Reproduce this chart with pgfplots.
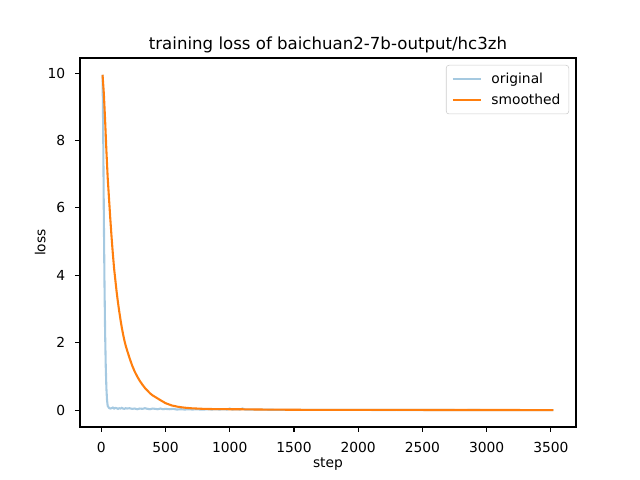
\documentclass[border=0pt]{standalone}
\usepackage{fontspec}
\setmainfont{DejaVu Sans}
\usepackage{pgfplots}
\pgfplotsset{compat=1.18}
\definecolor{cblue}{HTML}{1F77B4}
\definecolor{corange}{HTML}{FF7F0E}
\begin{document}
\begin{tikzpicture}
\path[use as bounding box] (0bp,0bp) rectangle (460.8bp,345.6bp);
\begin{axis}[
  at={(57.6bp,38.16bp)}, anchor=south west,
  width=357.12bp, height=265.68bp, scale only axis,
  xmin=-165.5, xmax=3695.5, ymin=-0.4975, ymax=10.4475,
  xtick={0,500,...,3500}, ytick={0,2,...,10},
  axis line style={line width=0.8bp},
  every tick/.style={black, line width=0.8bp},
  tick align=outside, major tick length=3.5bp,
  xtick pos=bottom, ytick pos=left,
  /pgf/number format/assume math mode=true,
  /pgf/number format/1000 sep={},
  tick label style={font=\fontsize{10}{12}\selectfont},
  xticklabel style={anchor=base, inner sep=0pt, yshift=-15.1bp},
  yticklabel style={anchor=east, inner sep=0pt, xshift=-7bp},
  title={training loss of baichuan2-7b-output/hc3zh},
  every axis title shift=0pt,
  title style={at={(axis description cs:0.5,1)}, anchor=base, yshift=6bp, inner sep=0pt, font=\fontsize{12}{14}\selectfont},
  xlabel={step},
  xlabel style={at={(axis description cs:0.5,0)}, anchor=base, yshift=-29.5bp, inner sep=0pt, font=\fontsize{10}{12}\selectfont},
  ylabel={loss},
  ylabel style={at={(axis description cs:0,0.5)}, anchor=base, rotate=0, yshift=25bp, inner sep=0pt, font=\fontsize{10}{12}\selectfont},
  legend style={at={(1,1)}, anchor=north east, xshift=-5bp, yshift=-5bp,
    draw=black!20, rounded corners=2bp, fill=white, fill opacity=0.8, text opacity=1,
    font=\fontsize{10}{12}\selectfont, inner xsep=4bp, inner ysep=3.5bp,
    row sep=2bp, /tikz/every odd column/.append style={column sep=5bp}},
  legend cell align=left,
  legend image code/.code={\draw[#1] (0bp,0bp) -- (20bp,0bp);},
]
\addplot[cblue, draw opacity=0.4, line width=1.5bp] coordinates {
(10,9.95)(15,8.3)(20,5.8)(25,3.8)(30,2.3)(35,1.3)(40,0.65)(45,0.3)(50,0.13)
(60,0.07)(70,0.05)(80,0.06)(90,0.08)(100,0.05)(110,0.07)(120,0.06)(130,0.04)
(140,0.06)(150,0.05)(160,0.07)(170,0.05)(180,0.04)(190,0.06)(200,0.05)(220,0.06)
(240,0.04)(260,0.05)(280,0.03)(300,0.05)(320,0.04)(340,0.06)(360,0.04)(380,0.03)
(400,0.05)(420,0.04)(440,0.03)(460,0.05)(480,0.03)(500,0.04)(530,0.03)(560,0.04)
(590,0.02)(620,0.03)(650,0.02)(680,0.03)(710,0.02)(740,0.03)(770,0.02)(800,0.02)
(830,0.03)(860,0.02)(890,0.03)(920,0.02)(950,0.03)(980,0.02)(1000,0.05)(1020,0.02)
(1050,0.03)(1080,0.02)(1100,0.05)(1120,0.02)(1150,0.02)(1200,0.02)(1300,0.015)
(1400,0.01)(1500,0.012)(1600,0.01)(1700,0.008)(1800,0.01)(1900,0.008)(2000,0.012)
(2100,0.008)(2200,0.007)(2300,0.008)(2400,0.006)(2500,0.007)(2600,0.006)(2700,0.006)
(2800,0.005)(2900,0.006)(3000,0.005)(3100,0.005)(3200,0.005)(3300,0.004)(3400,0.005)
(3500,0.004)(3520,0.004)
};
\addlegendentry{original}
\addplot[corange, line width=1.5bp] coordinates {
(10,9.95)(20,9.4)(30,8.6)(40,7.7)(50,6.9)(60,6.3)(70,5.7)(80,5.15)(90,4.65)
(100,4.2)(110,3.85)(120,3.5)(130,3.2)(140,2.93)(150,2.68)(160,2.45)(170,2.25)
(180,2.07)(190,1.92)(200,1.79)(220,1.55)(240,1.33)(260,1.15)(280,1.0)(300,0.87)
(320,0.76)(340,0.66)(360,0.58)(380,0.5)(400,0.44)(430,0.37)(460,0.3)(500,0.21)
(550,0.14)(600,0.1)(650,0.075)(700,0.058)(800,0.04)(900,0.032)(1000,0.03)
(1100,0.028)(1200,0.022)(1400,0.016)(1600,0.012)(2000,0.01)(2500,0.008)
(3000,0.006)(3520,0.005)
};
\addlegendentry{smoothed}
\end{axis}
\end{tikzpicture}
\end{document}
